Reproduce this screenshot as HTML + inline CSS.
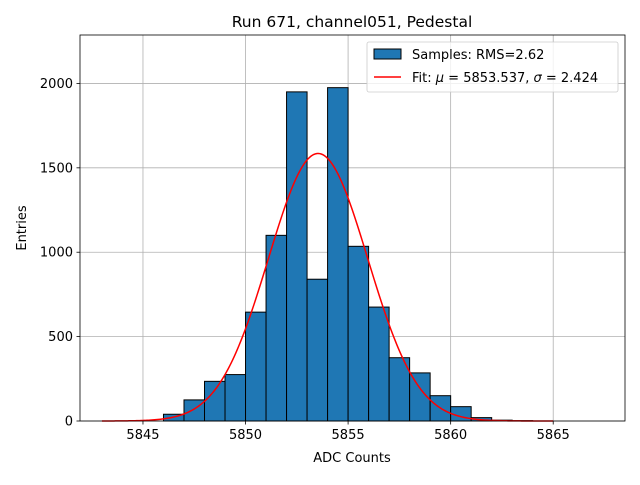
<!DOCTYPE html>
<html><head><meta charset="utf-8"><style>
body{margin:0;background:#fff;font-family:"Liberation Sans","DejaVu Sans",sans-serif;}
svg text{font-family:"DejaVu Sans","Liberation Sans",sans-serif;}
</style></head><body>
<svg id="c" width="640" height="480"></svg>
<script>
const binStarts=[5846,5847,5848,5849,5850,5851,5852,5853,5854,5855,5856,5857,5858,5859,5860,5861,5862,5863];
const counts=[40,125,235,275,645,1100,1950,840,1975,1035,675,375,285,150,85,20,5,2];
const xTicks=[5845,5850,5855,5860,5865];
const yTicks=[0,500,1000,1500,2000];
const fitMu=5853.537, fitSigma=2.424, fitPeak=1585, fitStart=5843, fitEnd=5865;
const L=80,R=625,T=35,B=421,xmin=5841.93,xmax=5868.5,ymin=0,ymax=2287;
const X=v=>L+(v-xmin)/(xmax-xmin)*(R-L);
const Y=v=>B-(v-ymin)/(ymax-ymin)*(B-T);
const svg=document.getElementById('c');const NS='http://www.w3.org/2000/svg';
function mk(t,a,p){const e=document.createElementNS(NS,t);for(const k in a)e.setAttribute(k,a[k]);(p||svg).appendChild(e);return e;}
xTicks.forEach(v=>{const g=mk('line',{x1:X(v),x2:X(v),y1:T,y2:B,stroke:'#b0b0b0','stroke-width':0.8});
});
yTicks.forEach(v=>{const g=mk('line',{x1:L,x2:R,y1:Y(v),y2:Y(v),stroke:'#b0b0b0','stroke-width':0.8});
});
binStarts.forEach((s,i)=>{const r=mk('rect',{x:X(s),y:Y(counts[i]),width:X(s+1)-X(s),height:Y(0)-Y(counts[i]),fill:'#1f77b4',stroke:'#000','stroke-width':1});
});
let d='';for(let i=0;i<=300;i++){const v=fitStart+(fitEnd-fitStart)*i/300;const y=fitPeak*Math.exp(-0.5*((v-fitMu)/fitSigma)**2);d+=(i?'L':'M')+X(v).toFixed(2)+','+Y(y).toFixed(2);}
const fp=mk('path',{d:d,fill:'none',stroke:'red','stroke-width':1.5});

const fr=mk('rect',{x:L,y:T,width:R-L,height:B-T,fill:'none',stroke:'#000','stroke-width':0.8});

xTicks.forEach(v=>{mk('line',{x1:X(v),x2:X(v),y1:B,y2:B+3.5,stroke:'#000','stroke-width':0.8});
const t=mk('text',{x:X(v),y:B+18,'text-anchor':'middle','font-size':13});t.textContent=v;
});
yTicks.forEach(v=>{mk('line',{x1:L,x2:L-3.5,y1:Y(v),y2:Y(v),stroke:'#000','stroke-width':0.8});
const t=mk('text',{x:L-7,y:Y(v)+4.5,'text-anchor':'end','font-size':13});t.textContent=v;
});
</script>
<svg width="640" height="480" style="position:absolute;left:0;top:0">
<text x="352" y="27" text-anchor="middle" font-size="15.5">Run 671, channel051, Pedestal</text>
<text x="352" y="462" text-anchor="middle" font-size="13">ADC Counts</text>
<text x="26" y="228" text-anchor="middle" font-size="13" transform="rotate(-90 26 228)">Entries</text>
<g>
<rect x="367" y="42" width="251" height="50" rx="2" fill="#fff" fill-opacity="0.8" stroke="#ccc" stroke-width="0.8"/>
<rect x="374" y="49" width="27" height="10" fill="#1f77b4" stroke="#000" stroke-width="1"/>
<text x="412" y="59" font-size="13">Samples: RMS=2.62</text>
<line x1="374" x2="401" y1="77" y2="77" stroke="red" stroke-width="1.5"/>
<text x="412" y="82" font-size="13">Fit: <tspan font-style="italic">μ</tspan> = 5853.537, <tspan font-style="italic">σ</tspan> = 2.424</text>
</g>
</svg>
</body></html>
